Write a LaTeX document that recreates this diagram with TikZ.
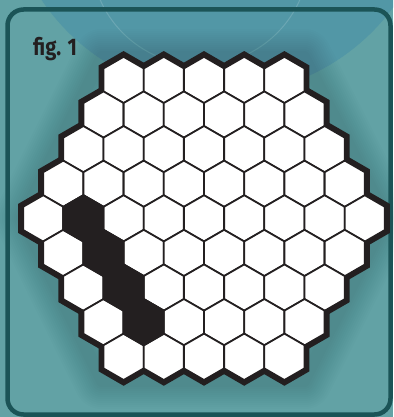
\documentclass[tikz,border=0pt]{standalone}
\usepackage{fontspec}
\newfontfamily\figfont{Fira Sans}[FakeStretch=0.84]
\definecolor{cBG}{HTML}{62A2A5}
\definecolor{cSKY}{HTML}{5297A6}
\definecolor{cFRM}{HTML}{1B5457}
\definecolor{cINK}{HTML}{231F20}
\tikzset{
  hex/.pic={\path[pic actions] (90:23.2) -- (150:23.2) -- (210:23.2) -- (270:23.2) -- (330:23.2) -- (30:23.2) -- cycle;},
  hexrim/.style={draw=cINK, fill=cINK, line width=10pt, line join=miter},
  hexcell/.style={draw=cINK, fill=white, line width=1.8pt, line join=miter},
  hexdark/.style={hexcell, fill=cINK},
}

\begin{document}
\begin{tikzpicture}[x=1pt, y=-1pt]
\useasboundingbox (0,0) rectangle (393,417);
% backdrop
\fill[cBG] (0,0) rectangle (393,417);
\begin{scope}
  \clip (0,0) rectangle (393,417);
  \fill[cSKY] (220,-120) circle (215);
  \draw[white, opacity=0.15, line width=1pt] (200,-44) circle (109);
\end{scope}
% soft shadow round the board
\foreach \w in {56,52,...,12} {
  \draw[black, opacity=0.013, line width=\w pt, line join=round]
    (102,57) -- (304,57) -- (386,218) -- (304,381) -- (102,381) -- (22,218) -- cycle;
}
\draw[cFRM, line width=4.5pt, rounded corners=16pt] (7.5,9.5) rectangle (390.5,414.5);
\node[anchor=base west, inner sep=0pt, text=cINK, font=\figfont\bfseries\fontsize{24}{24}\selectfont] (title) at (33,56) {fig. 1};
% board: rim, cells, dark cells
\foreach \s in {hexrim, hexcell} {
  \foreach \r in {0,...,8} {
    \pgfmathtruncatemacro\n{9-abs(\r-4)}
    \foreach \c in {1,...,\n} {
      \pgfmathsetmacro\x{204-(\n+1)/2*40.2+\c*40.2}
      \pgfmathsetmacro\y{80+\r*34.6}
      \pic[\s] at (\x,\y) {hex};
    }
  }
}
\foreach \r/\c in {4/2, 5/2, 6/2, 7/2} {
  \pgfmathtruncatemacro\n{9-abs(\r-4)}
  \pgfmathsetmacro\x{204-(\n+1)/2*40.2+\c*40.2}
  \pgfmathsetmacro\y{80+\r*34.6}
  \pic[hexdark] at (\x,\y) {hex};
}
\end{tikzpicture}
\end{document}
